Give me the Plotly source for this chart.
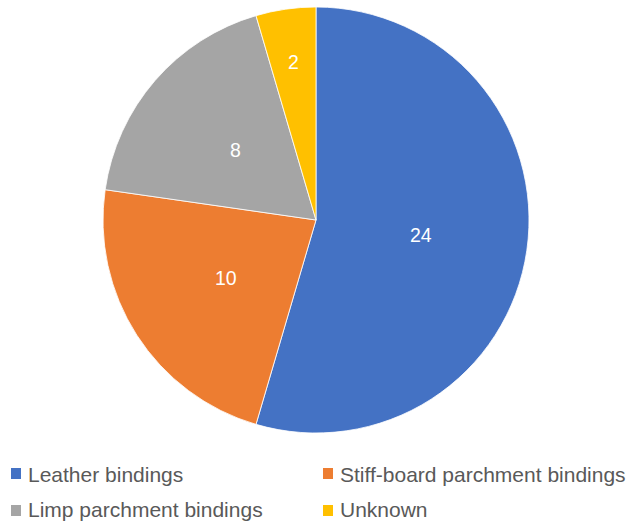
import math
import plotly.graph_objects as go

# Binding types and counts
labels = ["Leather bindings", "Stiff-board parchment bindings",
          "Limp parchment bindings", "Unknown"]
counts = [24, 10, 8, 2]
colors = ["#4472C4", "#ED7D31", "#A5A5A5", "#FFC000"]
# radial position of each value label, as a fraction of the radius
label_radius = [0.5, 0.5, 0.5, 0.75]

W, H = 629, 521
cx, cy, r = 316, 220, 213
FONT = "Liberation Sans, Arial, sans-serif"

fig = go.Figure(go.Pie(
    labels=labels,
    values=counts,
    sort=False,
    direction="clockwise",
    rotation=0,
    marker=dict(colors=colors, line=dict(color="white", width=0.8)),
    textinfo="none",
    domain=dict(x=[(cx - r) / W, (cx + r) / W], y=[1 - (cy + r) / H, 1 - (cy - r) / H]),
    showlegend=False,
    hoverinfo="label+value+percent",
))

annotations, shapes = [], []

# Value labels placed at the middle angle of each slice
total = sum(counts)
cum = 0
for v, f in zip(counts, label_radius):
    mid = (cum + v / 2) / total * 2 * math.pi
    cum += v
    px = cx + f * r * math.sin(mid)
    py = cy - f * r * math.cos(mid)
    annotations.append(dict(xref="paper", yref="paper", x=px / W, y=1 - py / H,
                            xanchor="center", yanchor="middle", showarrow=False,
                            text=str(v), font=dict(family=FONT, size=19.5, color="white")))

# Two-column legend below the pie
col_x = [11, 323]
row_y = [473.5, 510.5]
text_y = [474.5, 509.5]
for i, (lab, col) in enumerate(zip(labels, colors)):
    x0 = col_x[i % 2]
    yc = row_y[i // 2]
    shapes.append(dict(type="rect", xref="paper", yref="paper",
                       x0=x0 / W, x1=(x0 + 10) / W,
                       y0=1 - (yc + 5.5) / H, y1=1 - (yc - 5.5) / H,
                       fillcolor=col, line=dict(width=0)))
    annotations.append(dict(xref="paper", yref="paper",
                            x=(x0 + 14.5) / W, y=1 - text_y[i // 2] / H,
                            xanchor="left", yanchor="middle",
                            text=lab, showarrow=False,
                            font=dict(family=FONT, size=21, color="#595959")))

fig.update_layout(
    width=W, height=H,
    margin=dict(l=0, r=0, t=0, b=0),
    paper_bgcolor="white",
    plot_bgcolor="white",
    shapes=shapes,
    annotations=annotations,
)

fig.write_html("out.html")
